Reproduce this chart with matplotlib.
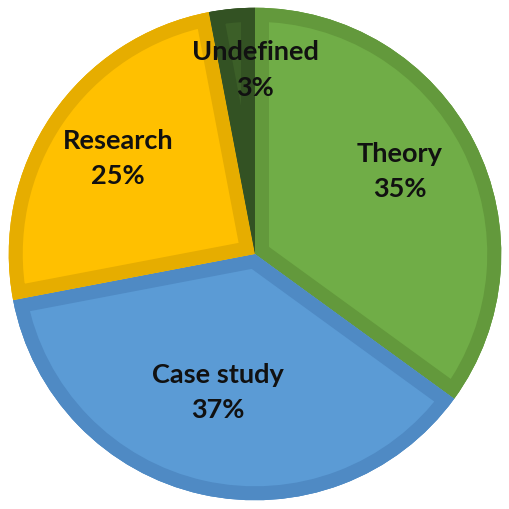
import math
import matplotlib
matplotlib.use("Agg")
import matplotlib.pyplot as plt
from matplotlib.patches import Wedge

categories = ["Theory", "Case study", "Research", "Undefined"]
shares = [35, 37, 25, 3]
fill_colors = ["#70AD47", "#5B9BD5", "#FFC000", "#3C5F28"]
band_colors = ["#63993C", "#4F8AC4", "#E6AD00", "#335223"]

# label position in radius units (distance, angle in degrees)
label_pos = [(0.67, 30), (0.57, -105), (0.67, 145), (0.74, 90)]

fig = plt.figure(figsize=(5.1, 5.1), dpi=100)
ax = fig.add_axes([0, 0, 1, 1])

wedges, _ = ax.pie(shares, startangle=90, counterclock=False, radius=0.985,
                   colors=band_colors, center=(0, 0),
                   wedgeprops=dict(linewidth=0))

band_px = 14
for w, fc, bc in zip(wedges, fill_colors, band_colors):
    inner = Wedge(w.center, w.r, w.theta1, w.theta2, facecolor=fc,
                  edgecolor=bc, linewidth=2 * band_px * 72 / 100,
                  joinstyle="round")
    ax.add_patch(inner)
    inner.set_clip_path(w)

for (d, a), name, s in zip(label_pos, categories, shares):
    x = d * math.cos(math.radians(a))
    y = d * math.sin(math.radians(a))
    ax.text(x, y, f"{name}\n{s}%", ha="center", va="center", fontsize=19.5,
            fontweight="bold", family="Lato", color="#111111", linespacing=1.55)

ax.set_xlim(-1.02, 1.02)
ax.set_ylim(-1.02, 1.02)
ax.set_aspect("equal")
ax.axis("off")

fig.savefig("out.png", dpi=100)
